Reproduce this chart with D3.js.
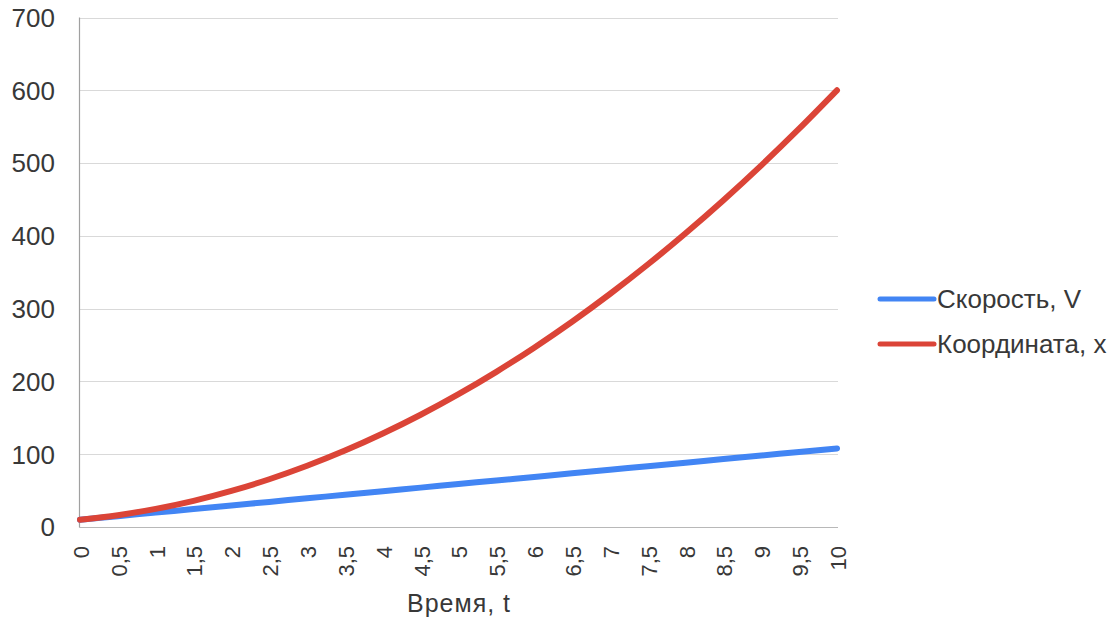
<!DOCTYPE html>
<html><head><meta charset="utf-8">
<script src="https://cdn.jsdelivr.net/npm/d3@7"></script>
<style>body{margin:0;background:#fff}svg{display:block}text{font-family:"Liberation Sans",Arial,sans-serif;fill:#383838}</style>
</head><body><svg id="c" width="1117" height="620"></svg>
<script>
const categories = ["0","0,5","1","1,5","2","2,5","3","3,5","4","4,5","5","5,5","6","6,5","7","7,5","8","8,5","9","9,5","10"];
const speedV = [10,14.9,19.8,24.7,29.6,34.5,39.4,44.3,49.2,54.1,59,63.9,68.8,73.7,78.6,83.5,88.4,93.3,98.2,103.1,108];
const coordX = [10,16.2,24.9,36,49.6,65.6,84.1,105,128.4,154.2,182.5,213.2,246.4,282,320.1,360.6,403.6,449,496.9,547.2,600];
const yTicks = [0,100,200,300,400,500,600,700];
const seriesNames = ["Скорость, V","Координата, x"];
const seriesColors = ["#4285f4","#db4437"];
const xTitle = "Время, t";

const svg = d3.select("#c");
const x = d3.scalePoint().domain(categories).range([80, 837]);
const y = d3.scaleLinear().domain([0, 700]).range([527, 17.5]);

// gridlines
svg.append("g").selectAll("line").data(yTicks).join("line")
  .attr("x1", 79.5).attr("x2", 838)
  .attr("y1", d => Math.round(y(d)) + 0.5).attr("y2", d => Math.round(y(d)) + 0.5)
  .attr("stroke", d => d === 0 ? "#b8b8b8" : "#d9d9d9").attr("stroke-width", 1.2);
// left axis line
svg.append("line").attr("x1", 79.5).attr("x2", 79.5).attr("y1", y(700)).attr("y2", y(0) + 0.5)
  .attr("stroke", "#a0a0a0").attr("stroke-width", 1.2);

// y labels
svg.append("g").selectAll("text").data(yTicks).join("text")
  .attr("x", 55).attr("y", d => y(d)).attr("dy", "0.36em")
  .attr("text-anchor", "end").attr("font-size", 26).text(d => d);

// x labels
svg.append("g").selectAll("text").data(categories).join("text")
  .attr("transform", d => `translate(${x(d) + 1},546) rotate(-90)`)
  .attr("dy", "0.36em").attr("text-anchor", "end").attr("font-size", 22).text(d => d);

// x title
svg.append("text").attr("x", 459).attr("y", 612).attr("text-anchor", "middle")
  .attr("font-size", 25).attr("letter-spacing", 1).text(xTitle);

const line = d3.line().x((d, i) => x(categories[i])).y(d => y(d)).curve(d3.curveMonotoneX);
[speedV, coordX].forEach((s, k) => {
  svg.append("path").datum(s).attr("d", line).attr("fill", "none")
    .attr("stroke", seriesColors[k]).attr("stroke-width", 6)
    .attr("stroke-linecap", "round").attr("stroke-linejoin", "round");
});

// legend
const lg = svg.append("g");
seriesNames.forEach((n, k) => {
  const yy = 299 + k * 45;
  lg.append("line").attr("x1", 880).attr("x2", 934).attr("y1", yy).attr("y2", yy)
    .attr("stroke", seriesColors[k]).attr("stroke-width", 5).attr("stroke-linecap", "round");
  lg.append("text").attr("x", 937).attr("y", yy).attr("dy", "0.36em")
    .attr("font-size", 26).text(n);
});
</script></body></html>
